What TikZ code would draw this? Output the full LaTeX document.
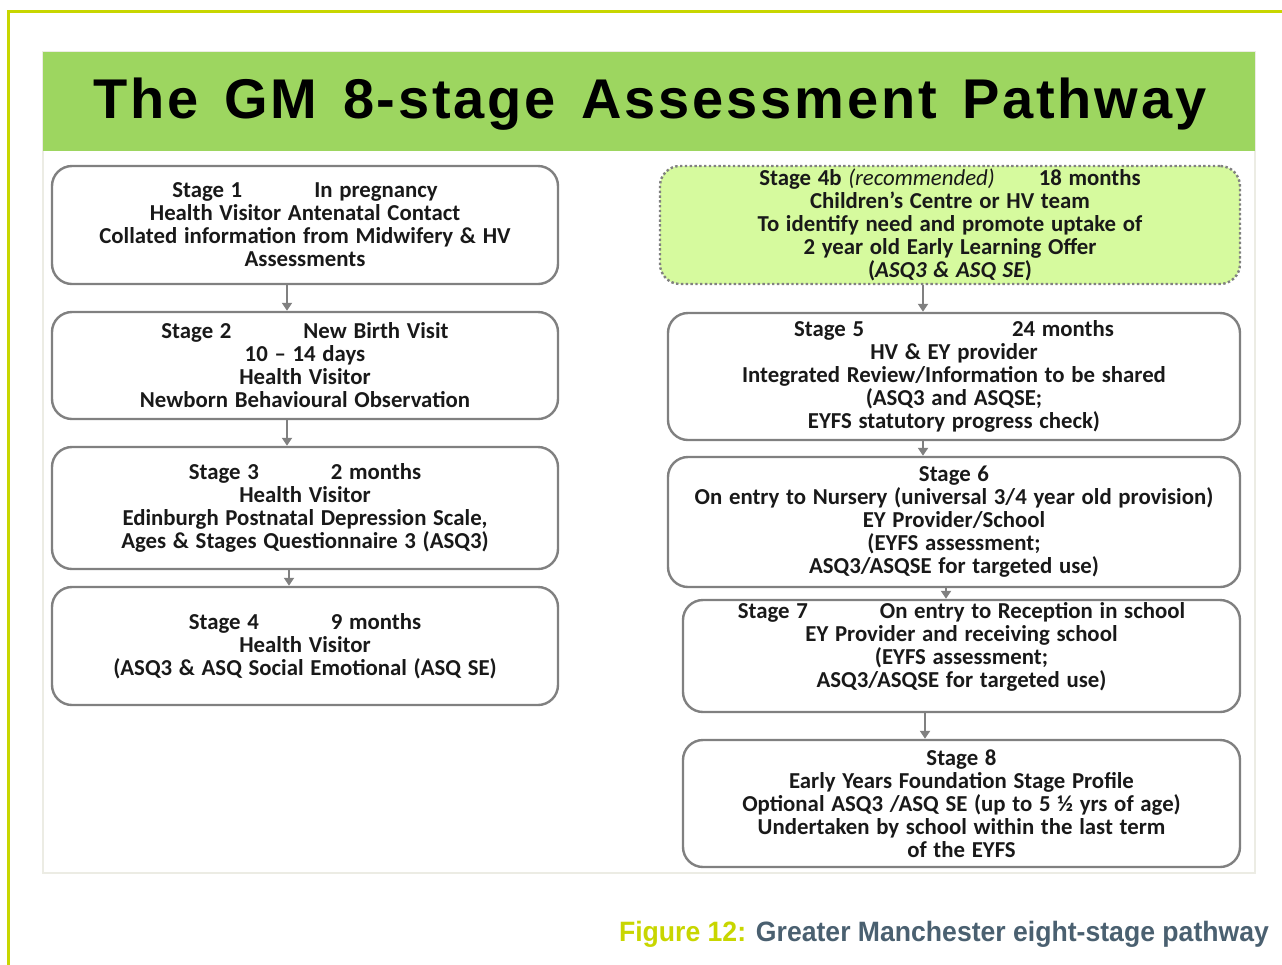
\documentclass[tikz,border=0pt]{standalone}
\usepackage{fontspec}
\usepackage{graphicx}
\setmainfont{Carlito}[WordSpace=1.3]
\newfontfamily\titlefont{Liberation Sans}[LetterSpace=5, WordSpace=1.4]
\newfontfamily\notefont{Liberation Sans}
\usetikzlibrary{arrows.meta}

\definecolor{cornice}{RGB}{200,214,0}
\definecolor{verdetitolo}{RGB}{157,214,96}
\definecolor{verdechiaro}{RGB}{214,250,158}
\definecolor{bordo}{RGB}{128,128,128}
\definecolor{didascalia}{RGB}{74,96,112}
\definecolor{pannello}{RGB}{236,236,228}

\begin{document}
\begin{tikzpicture}[x=0.5pt, y=-0.5pt, >={Triangle[length=4pt,width=5pt]},
    fase/.style={draw=bordo, line width=1.2pt, rounded corners=10pt, inner sep=0pt,
        align=center, text=black!90, font=\fontsize{11.4}{11.5}\selectfont\bfseries},
    sinistra/.style={fase, minimum width=253pt},
    destra/.style={fase, minimum width=286pt},
    flusso/.style={draw=bordo, line width=1pt, ->}]
    % --- Impostazioni ---
    \def\spazio{\hspace{36pt}} % spazio tra "Stage n" e l'eta'
    \useasboundingbox (0,0) rectangle (1282,965);

    % --- Cornice e pannello ---
    \draw[cornice, line width=1.5pt] (8.5,965) -- (8.5,11.5) -- (1282,11.5);
    \draw[pannello, line width=0.8pt] (43,52) rectangle (1255,873);
    \fill[verdetitolo] (43,52) rectangle (1255,151);
    \node[anchor=base, font=\titlefont\bfseries\fontsize{28}{30}\selectfont] (titolo)
        at (650,118) {The GM 8-stage Assessment Pathway};

    % --- Colonna sinistra ---
    \node[sinistra, minimum height=59pt] (s1) at (305,225)
        {Stage 1\spazio In pregnancy\\Health Visitor Antenatal Contact\\
         Collated information from Midwifery \& HV\\Assessments};
    \node[sinistra, minimum height=53.5pt] (s2) at (305,365.5)
        {Stage 2\spazio New Birth Visit\\10 – 14 days\\Health Visitor\\
         Newborn Behavioural Observation};
    \node[sinistra, minimum height=61pt] (s3) at (305,508)
        {Stage 3\spazio 2 months\\Health Visitor\\
         Edinburgh Postnatal Depression Scale,\\Ages \& Stages Questionnaire 3 (ASQ3)};
    \node[sinistra, minimum height=59pt] (s4) at (305,646)
        {Stage 4\spazio 9 months\\Health Visitor\\
         (ASQ3 \& ASQ Social Emotional (ASQ SE)};

    % --- Colonna destra ---
    % Stage 4b e' facoltativa: bordo a puntini e sfondo verde
    \node[fase, minimum width=290pt, minimum height=59pt, fill=verdechiaro,
          dash pattern=on 1.2pt off 1.2pt] (s4b) at (950,225)
        {Stage 4b {\mdseries\itshape (recommended)}\hspace{22pt}18 months\\
         Children’s Centre or HV team\\To identify need and promote uptake of\\
         2 year old Early Learning Offer\\(\textit{ASQ3 \& ASQ SE})};
    \node[destra, minimum height=63.5pt] (s5) at (954,376.5)
        {Stage 5\hspace{74pt}24 months\\HV \& EY provider\\
         Integrated Review/Information to be shared\\(ASQ3 and ASQSE;\\
         EYFS statutory progress check)};
    \node[destra, minimum height=65pt] (s6) at (954,522)
        {Stage 6\\On entry to Nursery (universal 3/4 year old provision)\\
         EY Provider/School\\(EYFS assessment;\\ASQ3/ASQSE for targeted use)};
    \node[fase, minimum width=278.5pt, minimum height=56pt] (s7) at (961.5,656)
        {Stage 7\spazio On entry to Reception in school\\
         EY Provider and receiving school\\(EYFS assessment;\\
         ASQ3/ASQSE for targeted use)\\\mbox{}};
    \node[fase, minimum width=278.5pt, minimum height=63.5pt] (s8) at (961.5,803.5)
        {Stage 8\\Early Years Foundation Stage Profile\\
         Optional ASQ3 /ASQ SE (up to 5 ½ yrs of age)\\
         Undertaken by school within the last term\\of the EYFS};

    % --- Frecce tra le fasi ---
    % \da e \db: spostamento orizzontale all'uscita e all'entrata
    \foreach \a/\b/\da/\db in {s1/s2/-9pt/-9pt, s2/s3/-9pt/-9pt, s3/s4/-8pt/-8pt,
            s4b/s5/-13.5pt/-15.5pt, s5/s6/-15.5pt/-15.5pt, s6/s7/-4pt/-7.75pt,
            s7/s8/-18.25pt/-18.25pt}
        \draw[flusso] ([xshift=\da]\a.south) -- ([xshift=\db]\b.north);

    % --- Didascalia ---
    \node[anchor=base east, font=\notefont\bfseries\fontsize{14}{16}\selectfont] (nota)
        at (1276,941) {\scalebox{0.95}[1]{\textcolor{cornice}{Figure 12:}
        \textcolor{didascalia}{Greater Manchester eight-stage pathway}}};
\end{tikzpicture}
\end{document}
